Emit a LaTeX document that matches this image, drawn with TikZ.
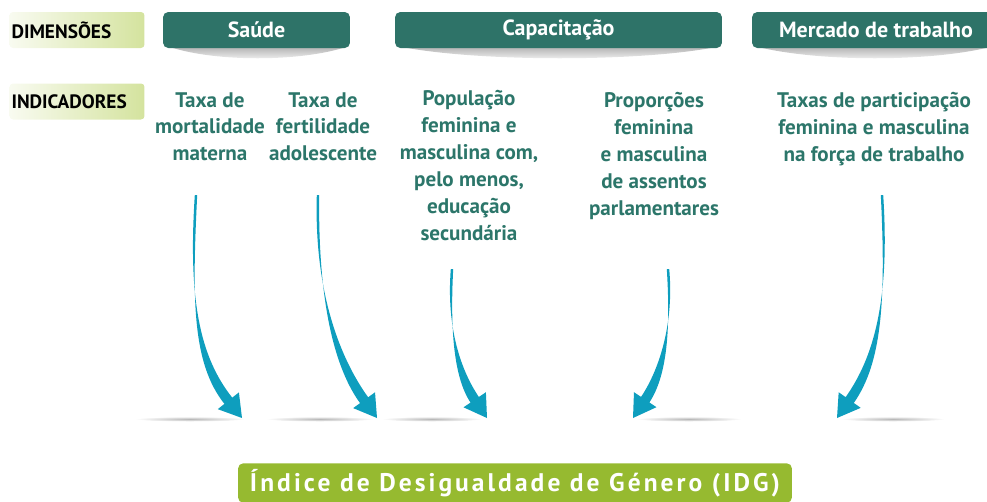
\documentclass[tikz,border=0pt]{standalone}
\usepackage{fontspec}
\setmainfont{PT Sans}
\usetikzlibrary{positioning, calc}
\definecolor{dimteal}{RGB}{46,115,104}
\definecolor{indteal}{RGB}{44,118,106}
\definecolor{arrowcyan}{RGB}{14,158,190}
\definecolor{idggreen}{RGB}{150,186,48}
\definecolor{labelgreen}{RGB}{212,227,158}

% tapered curved arrow: start, control, control, tip
\newcommand{\sweeparrow}[4]{%
  \coordinate (nk) at ($(#4)!0.44cm!(#3)$);
  \coordinate (nl) at ($(nk)!0.1cm!90:(#4)$);
  \coordinate (nr) at ($(nk)!0.1cm!-90:(#4)$);
  \coordinate (hl) at ($(nk)!0.27cm!90:(#4)$);
  \coordinate (hr) at ($(nk)!0.27cm!-90:(#4)$);
  \fill[arrowcyan] ($(#1)+(-1.2,0)$) .. controls ($(#2)+(-2,0)$) and ($(#3)+(nl)-(nk)$) .. (nl)
    -- (hl) -- (#4) -- (hr) -- (nr)
    .. controls ($(#3)+(nr)-(nk)$) and ($(#2)+(2,0)$) .. ($(#1)+(1.2,0)$) -- cycle;
}

\begin{document}
\begin{tikzpicture}[
        x=0.02cm, y=-0.02cm,
        labelbox/.style={rectangle, rounded corners=2pt, left color=labelgreen!15, right color=labelgreen, minimum height=0.72cm, text width=2.62cm, inner xsep=0.04cm, align=left, font=\fontsize{11}{13}\selectfont\bfseries},
        dimbox/.style={rectangle, fill=dimteal, rounded corners=3pt, minimum height=0.72cm, text=white, font=\fontsize{12.5}{15}\selectfont\bfseries},
        indtext/.style={anchor=north, inner sep=0pt, align=center, text=indteal, font=\fontsize{12}{15.3}\selectfont\bfseries},
        idgbox/.style={rectangle, fill=idggreen, rounded corners=3pt, minimum width=11.08cm, minimum height=0.72cm, text=white, font=\fontsize{14.5}{17}\selectfont\bfseries\addfontfeature{LetterSpace=12}},
        boxshadow/.style={top color=black!30, bottom color=white},
        floorshadow/.style={inner color=black!28, outer color=white}
    ]
        \useasboundingbox (0,0) rectangle (987,501);

        % row labels
        \node[labelbox] (dimlabel) at (77,30) {DIMENSÕES};
        \node[labelbox] (indlabel) at (77,101.5) {INDICADORES};

        % shadows under the dimension boxes
        \shade[boxshadow] (170,47) -- (346,47) .. controls (300,62) and (215,62) .. (170,47);
        \shade[boxshadow] (402,47) -- (716,47) .. controls (640,62) and (480,62) .. (402,47);
        \shade[boxshadow] (758,47) -- (990,47) .. controls (930,62) and (820,62) .. (758,47);

        \node[dimbox, minimum width=3.74cm] (saude) at (256.5,30) {Saúde};
        \node[dimbox, minimum width=6.54cm] (capac) at (558.5,30) {Capacitação};
        \node[dimbox, minimum width=4.96cm] (mercado) at (876,30) {Mercado de trabalho};

        % indicators
        \node[indtext] (mortal) at (210,92) {Taxa de\\mortalidade\\materna};
        \node[indtext] (fertil) at (323,92) {Taxa de\\fertilidade\\adolescente};
        \node[indtext] (educ) at (469,90) {População\\feminina e\\masculina com,\\pelo menos,\\educação\\secundária};
        \node[indtext] (parlam) at (654,92) {Proporções\\feminina\\e masculina\\de assentos\\parlamentares};
        \node[indtext] (forca) at (874,92) {Taxas de participação\\feminina e masculina\\na força de trabalho};

        % floor shadows
        \shade[floorshadow] (190,419) ellipse [x radius=55, y radius=2.5];
        \shade[floorshadow] (320,419) ellipse [x radius=54, y radius=2.5];
        \shade[floorshadow] (432,419) ellipse [x radius=50, y radius=2.5];
        \shade[floorshadow] (689,419) ellipse [x radius=53, y radius=2.5];
        \shade[floorshadow] (893,419) ellipse [x radius=52, y radius=2.5];

        % arrows
        \coordinate (mortstart) at (196,195);
        \coordinate (morttip) at (242,418);
        \coordinate (fertstart) at (318,195);
        \coordinate (ferttip) at (377,418);
        \coordinate (educstart) at (452,269);
        \coordinate (eductip) at (487,418);
        \coordinate (parlstart) at (668,269);
        \coordinate (parltip) at (633,418);
        \coordinate (forcstart) at (882,195);
        \coordinate (forctip) at (837,418);

        \sweeparrow{mortstart}{190,300}{196,360}{morttip}
        \sweeparrow{fertstart}{316,290}{335,360}{ferttip}
        \sweeparrow{educstart}{448,330}{458,375}{eductip}
        \sweeparrow{parlstart}{672,320}{665,370}{parltip}
        \sweeparrow{forcstart}{888,300}{878,360}{forctip}

        % index
        \node[idgbox] (idg) at (515,483) {Índice de Desigualdade de Género (IDG)};
    \end{tikzpicture}
\end{document}
